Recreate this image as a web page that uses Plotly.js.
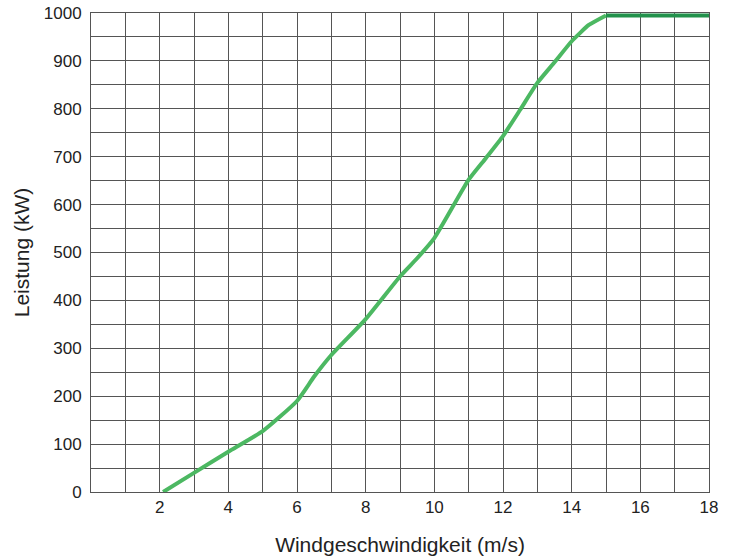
<!DOCTYPE html>
<html>
<head>
<meta charset="utf-8">
<script src="https://cdn.plot.ly/plotly-3.0.1.min.js"></script>
<style>html,body{margin:0;padding:0;background:#fff;}#chart{width:729px;height:559px;}</style>
</head>
<body>
<div id="chart"></div>
<script>
var windSpeed = [2.1, 3, 4, 5, 6, 6.5, 7, 8, 9, 9.5, 10, 11, 11.5, 12, 12.5, 13, 13.5, 14, 14.5, 15, 16, 17, 18];
var power     = [0, 40, 84, 127, 190, 241, 286, 361, 450, 488, 530, 652, 697, 743, 798, 854, 897, 941, 975, 995, 995, 995, 995];
var xTickVals = [2, 4, 6, 8, 10, 12, 14, 16, 18];
var yTickVals = [0, 100, 200, 300, 400, 500, 600, 700, 800, 900, 1000];
var xTitle = 'Windgeschwindigkeit (m/s)';
var yTitle = 'Leistung (kW)';

var splitIdx = windSpeed.indexOf(15);
var traces = [
  {x: windSpeed.slice(0, splitIdx + 1), y: power.slice(0, splitIdx + 1), mode: 'lines',
   line: {color: '#4cb862', width: 4, shape: 'spline', smoothing: 0.5}, hoverinfo: 'skip', showlegend: false},
  {x: windSpeed.slice(splitIdx), y: power.slice(splitIdx), mode: 'lines',
   line: {color: '#22924c', width: 4}, hoverinfo: 'skip', showlegend: false}
];
var gridCol = '#555';
var layout = {
  width: 729, height: 559,
  margin: {l: 91, r: 20, t: 13, b: 67},
  paper_bgcolor: '#fff', plot_bgcolor: '#fff',
  font: {family: 'Liberation Sans, Arial, sans-serif', color: '#222', size: 17},
  xaxis: {range: [0, 18], tickvals: xTickVals, showgrid: true, gridcolor: gridCol, gridwidth: 1,
    minor: {dtick: 1, tick0: 0, showgrid: true, gridcolor: gridCol, gridwidth: 1},
    zeroline: false, showline: true, linecolor: gridCol, linewidth: 1, mirror: true,
    ticks: '', ticklen: 0, tickfont: {size: 17, color: '#222'},
    title: {text: xTitle, font: {size: 21, color: '#222'}, standoff: 20}},
  yaxis: {range: [0, 1000], tickvals: yTickVals, showgrid: true, gridcolor: gridCol, gridwidth: 1,
    minor: {dtick: 50, tick0: 0, showgrid: true, gridcolor: gridCol, gridwidth: 1},
    zeroline: false, showline: true, linecolor: gridCol, linewidth: 1, mirror: true,
    ticks: '', ticklen: 0, tickfont: {size: 17, color: '#222'}, ticklabelstandoff: 5,
    title: {text: yTitle, font: {size: 21, color: '#222'}, standoff: 8}}
};
Plotly.newPlot('chart', traces, layout, {displayModeBar: false, staticPlot: true});
</script>
</body>
</html>
